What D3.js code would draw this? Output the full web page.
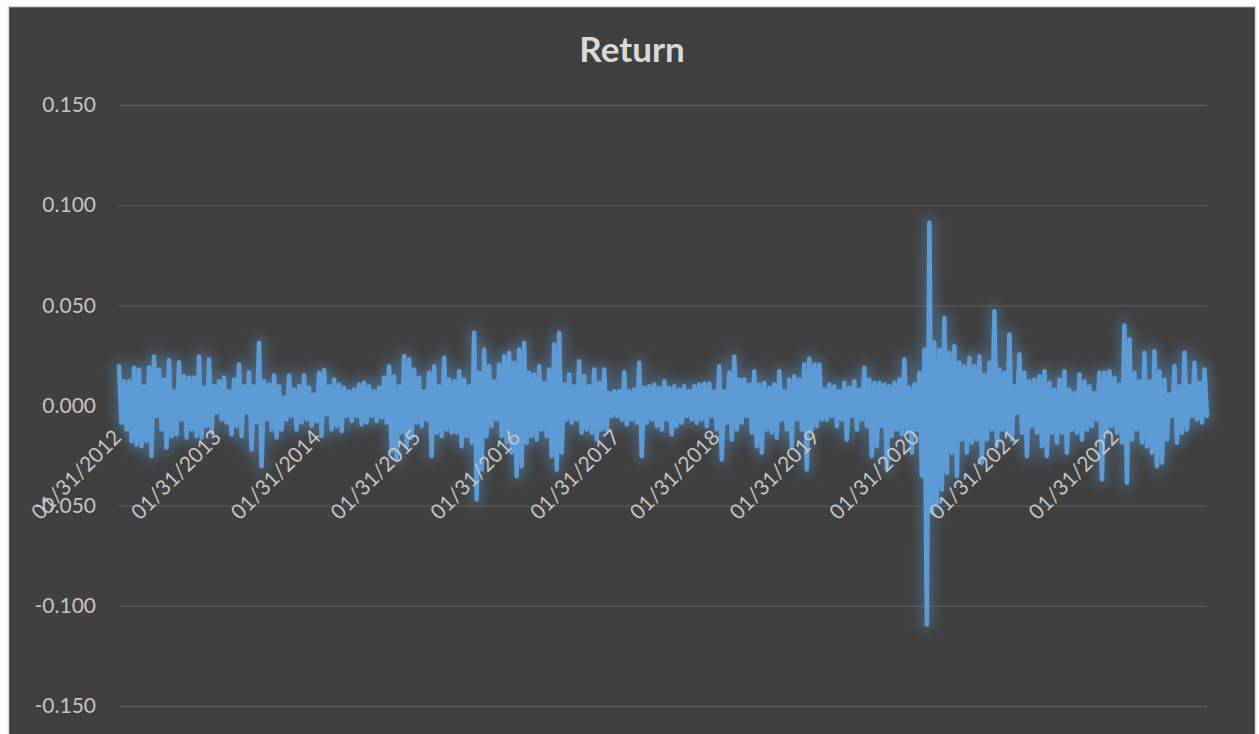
<!DOCTYPE html>
<html><head><meta charset="utf-8">
<script src="https://cdn.jsdelivr.net/npm/d3@7"></script>
<style>html,body{margin:0;padding:0;background:#ffffff;overflow:hidden}svg{display:block}</style>
</head><body>
<svg id="chart" width="1259" height="734"></svg>
<script>
// ---------------- data ----------------
const chartTitle = "Return";
const yTickValues = [-0.15, -0.10, -0.05, 0, 0.05, 0.10, 0.15];
const xTickLabels = ["01/31/2012","01/31/2013","01/31/2014","01/31/2015","01/31/2016",
  "01/31/2017","01/31/2018","01/31/2019","01/31/2020","01/31/2021","01/31/2022"];
const yearsSpan = 10.91; // 01/31/2012 .. 12/30/2022, in years after the first label

// daily returns (alternating up / down moves)
const returns2012_2014 = [
  0.0196,-0.0086, 0.0121,-0.0120, 0.0121,-0.0178, 0.0188,-0.0195, 0.0180,-0.0203,
  0.0096,-0.0178, 0.0190,-0.0253, 0.0243,-0.0053, 0.0180,-0.0120, 0.0130,-0.0210,
  0.0226,-0.0153, 0.0071,-0.0145, 0.0216,-0.0070, 0.0146,-0.0160, 0.0140,-0.0120,
  0.0140,-0.0153, 0.0243,-0.0160, 0.0090,-0.0103, 0.0230,-0.0135, 0.0096,-0.0035,
  0.0121,-0.0070, 0.0140,-0.0085, 0.0071,-0.0145, 0.0130,-0.0103, 0.0205,-0.0153,
  0.0096,-0.0035, 0.0166,-0.0220, 0.0096,-0.0085, 0.0313,-0.0303, 0.0121,-0.0070,
  0.0105,-0.0120, 0.0150,-0.0160, 0.0096,-0.0120, 0.0040,-0.0070, 0.0150,-0.0053,
  0.0080,-0.0120, 0.0096,-0.0085, 0.0150,-0.0070, 0.0090,-0.0103, 0.0055,-0.0078,
  0.0163,-0.0153, 0.0176,-0.0045, 0.0096,-0.0120, 0.0130,-0.0103, 0.0105,-0.0128,
  0.0090,-0.0053, 0.0071,-0.0078, 0.0080,-0.0053, 0.0105,-0.0095, 0.0113,-0.0085,
  0.0096,-0.0053, 0.0071,-0.0078, 0.0090,-0.0060, 0.0140,-0.0085, 0.0196,-0.0228,
  0.0146,-0.0269, 0.0096,-0.0135, 0.0246,-0.0203, 0.0230,-0.0160
];
const returns2015_2017 = [
  0.0180,-0.0086, 0.0138,-0.0103, 0.0071,-0.0070, 0.0163,-0.0253, 0.0196,-0.0136,
  0.0096,-0.0153, 0.0238,-0.0120, 0.0130,-0.0136, 0.0121,-0.0136, 0.0171,-0.0203,
  0.0130,-0.0153, 0.0096,-0.0186, 0.0363,-0.0469, 0.0163,-0.0319, 0.0279,-0.0153,
  0.0196,-0.0103, 0.0121,-0.0070, 0.0205,-0.0153, 0.0246,-0.0186, 0.0263,-0.0236,
  0.0213,-0.0353, 0.0279,-0.0303, 0.0313,-0.0186, 0.0163,-0.0153, 0.0155,-0.0170,
  0.0196,-0.0120, 0.0113,-0.0153, 0.0180,-0.0253, 0.0304,-0.0319, 0.0363,-0.0236,
  0.0105,-0.0070, 0.0155,-0.0086, 0.0096,-0.0070, 0.0221,-0.0136, 0.0146,-0.0120,
  0.0096,-0.0136, 0.0180,-0.0170, 0.0113,-0.0120, 0.0180,-0.0120, 0.0063,-0.0053,
  0.0071,-0.0053, 0.0071,-0.0070, 0.0166,-0.0095, 0.0071,-0.0070, 0.0080,-0.0086,
  0.0213,-0.0253, 0.0088,-0.0086, 0.0096,-0.0070, 0.0105,-0.0103, 0.0088,-0.0120,
  0.0121,-0.0070, 0.0088,-0.0145, 0.0096,-0.0103, 0.0080,-0.0086, 0.0096,-0.0053,
  0.0071,-0.0070, 0.0096,-0.0086, 0.0105,-0.0070
];
const returns2018_2020 = [
  0.0110,-0.0103, 0.0110,-0.0053, 0.0071,-0.0120, 0.0196,-0.0269, 0.0071,-0.0086,
  0.0163,-0.0170, 0.0243,-0.0120, 0.0130,-0.0086, 0.0130,-0.0053, 0.0105,-0.0136,
  0.0171,-0.0203, 0.0105,-0.0236, 0.0113,-0.0120, 0.0088,-0.0136, 0.0105,-0.0161,
  0.0171,-0.0070, 0.0071,-0.0120, 0.0130,-0.0203, 0.0146,-0.0070, 0.0130,-0.0120,
  0.0205,-0.0319, 0.0233,-0.0120, 0.0205,-0.0103, 0.0205,-0.0070, 0.0080,-0.0070,
  0.0105,-0.0053, 0.0096,-0.0103, 0.0071,-0.0070, 0.0113,-0.0170, 0.0088,-0.0053,
  0.0121,-0.0120, 0.0080,-0.0070, 0.0188,-0.0103, 0.0130,-0.0253, 0.0113,-0.0203,
  0.0113,-0.0103, 0.0105,-0.0319, 0.0096,-0.0153, 0.0113,-0.0120, 0.0130,-0.0145,
  0.0230,-0.0136, 0.0088,-0.0236, 0.0105,-0.0120, 0.0163,-0.0350
];
const returns2020_2022 = [
  0.0279,-0.1093, 0.0912,-0.0534, 0.0314,-0.0494, 0.0279,-0.0419, 0.0438,-0.0336,
  0.0263,-0.0236, 0.0296,-0.0353, 0.0213,-0.0170, 0.0196,-0.0236, 0.0238,-0.0186,
  0.0196,-0.0170, 0.0246,-0.0286, 0.0155,-0.0170, 0.0213,-0.0120, 0.0471,-0.0203,
  0.0180,-0.0120, 0.0163,-0.0136, 0.0354,-0.0170, 0.0096,-0.0036, 0.0254,-0.0136,
  0.0163,-0.0253, 0.0121,-0.0103, 0.0130,-0.0136, 0.0146,-0.0203, 0.0171,-0.0253,
  0.0113,-0.0136, 0.0080,-0.0186, 0.0130,-0.0136, 0.0171,-0.0236, 0.0080,-0.0120,
  0.0063,-0.0136, 0.0155,-0.0170, 0.0121,-0.0120, 0.0096,-0.0103, 0.0063,-0.0070,
  0.0163,-0.0369, 0.0163,-0.0136, 0.0171,-0.0103, 0.0138,-0.0136, 0.0105,-0.0186,
  0.0399,-0.0386, 0.0329,-0.0170, 0.0163,-0.0120, 0.0121,-0.0186, 0.0263,-0.0203,
  0.0121,-0.0236, 0.0271,-0.0303, 0.0171,-0.0286, 0.0130,-0.0170, 0.0055,-0.0053,
  0.0196,-0.0186, 0.0096,-0.0136, 0.0263,-0.0120, 0.0096,-0.0053, 0.0213,-0.0070,
  0.0113,-0.0086, 0.0180,-0.0053
];
const returns = [].concat(returns2012_2014, returns2015_2017, returns2018_2020, returns2020_2022);

// ---------------- drawing ----------------
const svg = d3.select("#chart");
const FONT = "Lato, 'Open Sans', sans-serif";
const plot = {left: 119, right: 1207, top: 105, bottom: 706};

const defs = svg.append("defs");
const f = defs.append("filter").attr("id", "glow")
  .attr("filterUnits", "userSpaceOnUse")
  .attr("x", 60).attr("y", 150).attr("width", 1200).attr("height", 560);
f.append("feMorphology").attr("in", "SourceAlpha").attr("operator", "dilate").attr("radius", 3).attr("result", "dil");
f.append("feGaussianBlur").attr("in", "dil").attr("stdDeviation", 6).attr("result", "blur");
f.append("feFlood").attr("flood-color", "#5b9bd5").attr("flood-opacity", 0.4).attr("result", "col");
f.append("feComposite").attr("in", "col").attr("in2", "blur").attr("operator", "in").attr("result", "glow");
const fm = f.append("feMerge");
fm.append("feMergeNode").attr("in", "glow");
fm.append("feMergeNode").attr("in", "SourceGraphic");

// chart area
svg.append("rect").attr("x", 8.5).attr("y", 6.5).attr("width", 1247).attr("height", 760)
  .attr("fill", "#404040").attr("stroke", "#d9d9d9").attr("stroke-width", 1.5);

svg.append("text").attr("x", 632).attr("y", 62).attr("text-anchor", "middle")
  .attr("font-family", FONT).attr("font-weight", "bold").attr("font-size", 35)
  .attr("fill", "#d9d9d9").text(chartTitle);

const x = d3.scaleLinear().domain([0, yearsSpan]).range([plot.left, plot.right]);
const y = d3.scaleLinear().domain([-0.15, 0.15]).range([plot.bottom, plot.top]);

// y axis + gridlines
const fmt = d3.format(".3f");
const yAxis = svg.append("g").attr("transform", `translate(${plot.left},0)`)
  .call(d3.axisLeft(y).tickValues(yTickValues)
    .tickSize(-(plot.right - plot.left)).tickPadding(23)
    .tickFormat(d => fmt(d).replace("\u2212", "-")));
yAxis.select(".domain").remove();
yAxis.selectAll(".tick line").attr("stroke", "#595959").attr("stroke-width", 1.3);
yAxis.selectAll(".tick text").attr("fill", "#c4c4c4").attr("font-family", FONT).attr("font-size", 21);

// x axis labels (category axis crossing at 0)
const xAxis = svg.append("g").attr("transform", `translate(0,${y(0)})`)
  .call(d3.axisBottom(x).tickValues(d3.range(xTickLabels.length))
    .tickSize(0).tickFormat(i => xTickLabels[i]));
xAxis.select(".domain").remove();
xAxis.selectAll(".tick text")
  .attr("fill", "#c4c4c4").attr("font-family", FONT).attr("font-size", 21)
  .attr("text-anchor", "end").attr("dy", "0.35em").attr("y", 0)
  .attr("transform", "translate(-2,28) rotate(-45)");

// the series
const n = returns.length;
const line = d3.line()
  .x((d, i) => x(i * yearsSpan / (n - 1)))
  .y(d => y(d));
svg.append("path").datum(returns)
  .attr("d", line)
  .attr("fill", "none").attr("stroke", "#5b9bd5").attr("stroke-width", 4.5)
  .attr("stroke-linejoin", "round").attr("stroke-linecap", "round")
  .attr("filter", "url(#glow)");

// labels drawn over the series as in the reference
xAxis.raise();
</script>
</body></html>
